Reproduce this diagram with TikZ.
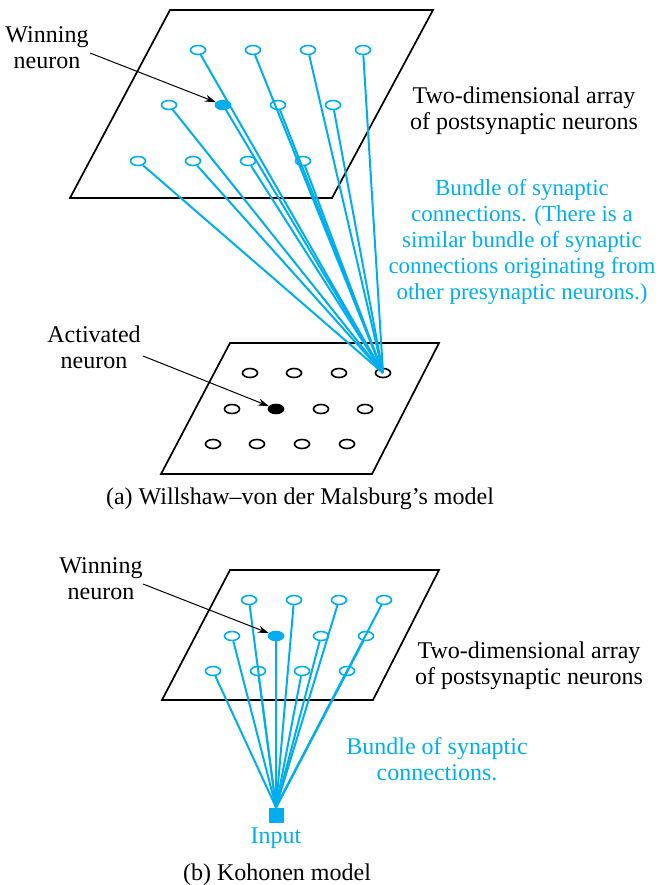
\documentclass[tikz,border=0pt]{standalone}
\usepackage{fontspec}
\setmainfont{Liberation Serif}
\usetikzlibrary{shapes.geometric, arrows.meta, positioning}
\definecolor{synblue}{RGB}{0,174,239}

\begin{document}
\begin{tikzpicture}[
    x=1pt, y=-1pt,
    font=\fontsize{24}{26}\selectfont,
    plane/.style={draw, line width=1.7pt},
    neuron/.style={
        ellipse, draw, line width=1.6pt, fill=white,
        minimum width=15pt, minimum height=9pt, inner sep=0pt
    },
    postneuron/.style={neuron, draw=synblue},
    winner/.style={neuron, draw=synblue, fill=synblue},
    active/.style={neuron, fill=black},
    synapse/.style={synblue, line width=2pt},
    pointer/.style={-{Stealth[length=11pt, width=7pt]}, line width=1pt},
    txt/.style={align=center},
    bluetxt/.style={align=center, text=synblue}
]

\useasboundingbox (0,0) rectangle (660,885);

% (a) Willshaw-von der Malsburg
% Upper plane
\draw[plane] (170,10) -- (433,10) -- (332,198) -- (70,198) -- cycle;
\foreach \n/\x/\y in {1/198/50, 2/253/50, 3/308/50, 4/363/50,
                      5/169/105, 7/278/105, 8/333/105,
                      9/138/161, 10/193/161, 11/248/161, 12/303/161}
    \node[postneuron] (t\n) at (\x,\y) {};
\node[winner] (t6) at (223,105) {};

% Lower plane
\draw[plane] (230,343) -- (439,343) -- (372,474) -- (161,474) -- cycle;
\foreach \n/\x/\y in {1/250/373, 2/294/373, 3/339/373, 4/383/373,
                      5/232/409, 7/321/409, 8/365/409,
                      9/213/444, 10/257/444, 11/302/444, 12/347/444}
    \node[neuron] (b\n) at (\x,\y) {};
\node[active] (b6) at (276,409) {};

% Bundle of synapses
\foreach \i in {1,...,12}
    \draw[synapse] (b4.center) -- (t\i);

% Labels
\node[txt] (wintop) at (47,48) {Winning\\neuron};
\coordinate (wintopfrom) at (90,53);
\draw[pointer] (wintopfrom) -- (t6);

\node[txt] (arraytop) at (524,111) {Two-dimensional array\\of postsynaptic neurons};
\node[bluetxt, font=\fontsize{23}{26}\selectfont] (bundletop) at (522,242) {Bundle of synaptic\\connections. (There is a\\similar bundle of synaptic\\connections originating from\\other presynaptic neurons.)};

\node[txt] (actlabel) at (94,347) {Activated\\neuron};
\coordinate (actfrom) at (143,356);
\draw[pointer] (actfrom) -- (b6);

\node (capa) at (300,499) {(a) Willshaw--von der Malsburg's model};

% (b) Kohonen
\draw[plane] (230,570) -- (439,570) -- (373,700) -- (162,700) -- cycle;
\foreach \n/\x/\y in {1/249/600, 2/294/600, 3/339/600, 4/384/600,
                      5/232/636, 7/321/636, 8/366/636,
                      9/213/671, 10/258/671, 11/302/671, 12/347/671}
    \node[postneuron] (k\n) at (\x,\y) {};
\node[winner] (k6) at (276,636) {};

\node[rectangle, fill=synblue, minimum size=15pt, inner sep=0pt] (input) at (276,815) {};
\foreach \i in {1,...,12}
    \draw[synapse] (input.north) -- (k\i);

\node[txt] (winbot) at (101,579) {Winning\\neuron};
\coordinate (winbotfrom) at (143,584);
\draw[pointer] (winbotfrom) -- (k6);

\node[txt] (arraybot) at (529,666) {Two-dimensional array\\of postsynaptic neurons};
\node[bluetxt] (bundlebot) at (437,759) {Bundle of synaptic\\connections.};
\node[bluetxt] (inputlabel) at (276,838) {Input};

\node (capb) at (277,875) {(b) Kohonen model};

\end{tikzpicture}
\end{document}
